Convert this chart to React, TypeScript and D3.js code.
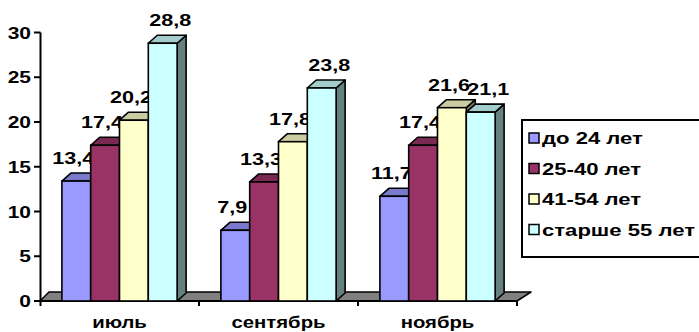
import React from "react";
import * as d3 from "d3";

const categories = ["июль", "сентябрь", "ноябрь"];
const seriesNames = ["до 24 лет", "25-40 лет", "41-54 лет", "старше 55 лет"];
const s1 = [13.4, 7.9, 11.7];
const s2 = [17.4, 13.3, 17.4];
const s3 = [20.2, 17.8, 21.6];
const s4 = [28.8, 23.8, 21.1];
const yTicks = [0, 5, 10, 15, 20, 25, 30];
const seriesValues = [s1, s2, s3, s4];
const seriesColors = ["#9999FF", "#993366", "#FFFFCC", "#CCFFFF"];

const W = 699;
const H = 332;
const FONT = "'Liberation Sans', Arial, sans-serif";
const SX = 1.27;
const DX = 9;
const DY = -8;

function shade(c: string, k: number) {
  const col = d3.rgb(c);
  return d3.rgb(col.r * k, col.g * k, col.b * k).formatHex();
}

function fmt(v: number) {
  return v.toFixed(1).replace(".", ",");
}

function SText({ x, y, anchor, size, sx, children }: any) {
  return (
    <g transform={`translate(${x},${y}) scale(${sx ?? SX},1)`}>
      <text
        x={0}
        y={0}
        textAnchor={anchor}
        fontFamily={FONT}
        fontWeight="bold"
        fontSize={size}
        fill="#000"
      >
        {children}
      </text>
    </g>
  );
}

export default function App() {
  const x0 = d3.scaleBand<string>().domain(categories).range([40, 517]).paddingInner(0).paddingOuter(0);
  const x1 = d3
    .scaleBand<number>()
    .domain(d3.range(seriesNames.length))
    .range([0, x0.bandwidth()])
    .paddingInner(0)
    .paddingOuter(0.76);
  const y = d3.scaleLinear().domain([0, 30]).range([301, 32.5]);
  const y0 = y(0);
  const xStart = x0.range()[0];
  const xEnd = x0.range()[1];
  const nS = seriesNames.length;

  return (
    <svg width={W} height={H} style={{ position: "absolute", left: 0, top: 0, background: "#fff" }}>
      {/* floor */}
      <polygon
        points={`${xStart},${y0} ${xEnd},${y0} ${xEnd + DX + 5},${y0 + DY - 1} ${xStart + DX},${y0 + DY - 1}`}
        fill="#808080"
        stroke="#000"
        strokeWidth={1.5}
        strokeLinejoin="round"
      />
      {/* y axis */}
      <line x1={40.5} x2={40.5} y1={y(30)} y2={y0 + 5} stroke="#000" strokeWidth={2} />
      {yTicks.map((t) => (
        <g key={t}>
          <line x1={34} x2={40.5} y1={y(t)} y2={y(t)} stroke="#000" strokeWidth={2} />
          <SText x={31} y={y(t) + 6} anchor="end" size={16.5}>
            {t}
          </SText>
        </g>
      ))}
      {/* x axis ticks */}
      {categories.map((c) => (
        <line
          key={c}
          x1={(x0(c) as number) + x0.bandwidth()}
          x2={(x0(c) as number) + x0.bandwidth()}
          y1={y0}
          y2={y0 + 5}
          stroke="#000"
          strokeWidth={2}
        />
      ))}
      <line x1={xStart} x2={xEnd} y1={y0} y2={y0} stroke="#000" strokeWidth={2} />
      {/* bars */}
      {categories.map((c, ci) => (
        <g key={c}>
          {seriesValues.map((vals, si) => {
            const v = vals[ci];
            const bx = (x0(c) as number) + (x1(si) as number);
            const bw = x1.bandwidth();
            const top = y(v);
            const col = seriesColors[si];
            const lx = si === nS - 1 ? bx + bw / 2 + DX / 2 + 3 : bx + bw / 2 - 3;
            return (
              <g key={si}>
                <polygon
                  points={`${bx + bw},${top} ${bx + bw + DX},${top + DY} ${bx + bw + DX},${y0 + DY} ${bx + bw},${y0}`}
                  fill={shade(col, 0.5)}
                  stroke="#000"
                  strokeWidth={1.6}
                  strokeLinejoin="round"
                />
                <polygon
                  points={`${bx},${top} ${bx + DX},${top + DY} ${bx + bw + DX},${top + DY} ${bx + bw},${top}`}
                  fill={shade(col, 0.8)}
                  stroke="#000"
                  strokeWidth={1.6}
                  strokeLinejoin="round"
                />
                <rect x={bx} y={top} width={bw} height={y0 - top} fill={col} stroke="#000" strokeWidth={1.6} />
                <SText x={lx} y={top - 17} anchor="middle" size={17}>
                  {fmt(v)}
                </SText>
              </g>
            );
          })}
        </g>
      ))}
      {/* category labels */}
      {categories.map((c) => (
        <SText key={c} x={(x0(c) as number) + x0.bandwidth() / 2} y={328} anchor="middle" size={16}>
          {c}
        </SText>
      ))}
      {/* legend */}
      <rect x={522} y={120} width={200} height={137} fill="#fff" stroke="#000" strokeWidth={2} />
      {seriesNames.map((n, i) => {
        const cy = 138 + i * 30.5;
        return (
          <g key={n}>
            <rect x={529} y={cy - 5} width={10} height={10} fill={seriesColors[i]} stroke="#000" strokeWidth={1.5} />
            <SText x={542} y={cy + 6} anchor="start" size={17} sx={1.3}>
              {n}
            </SText>
          </g>
        );
      })}
    </svg>
  );
}
